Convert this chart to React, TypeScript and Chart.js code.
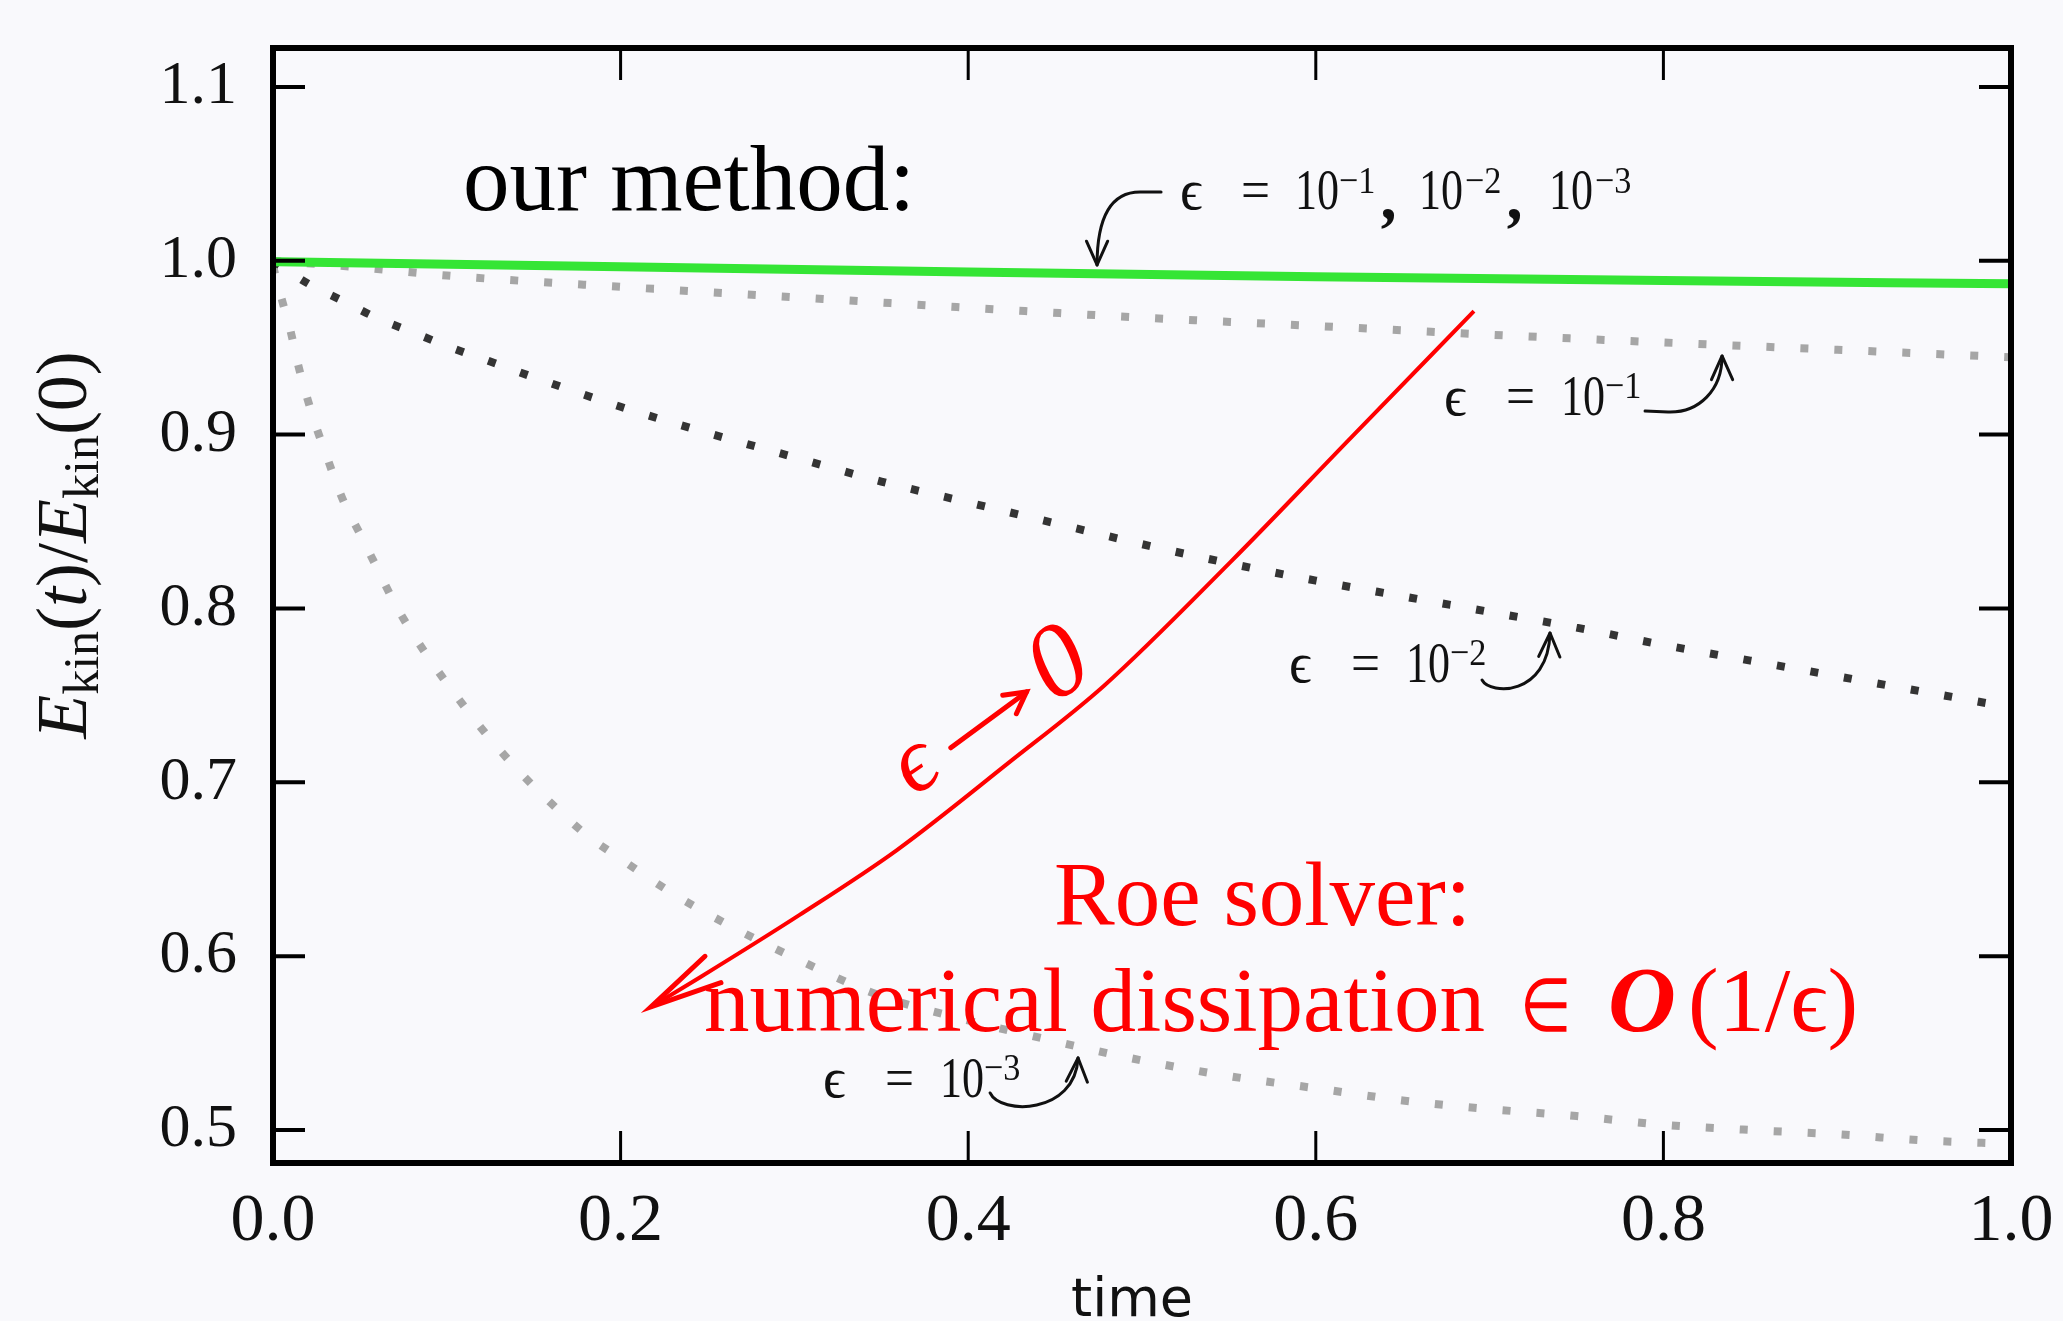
import React, { useEffect, useRef } from 'react';
import { Chart, registerables } from 'chart.js';

Chart.register(...registerables);

// ---------------- data ----------------
const xTickValues = [0, 0.2, 0.4, 0.6, 0.8, 1.0];
const yTickValues = [0.5, 0.6, 0.7, 0.8, 0.9, 1.0, 1.1];

// our method (all eps coincide)
const timeOurMethod = [0, 0.2, 0.4, 0.6, 0.8, 1.0];
const ekinOurMethod = [0.9995, 0.9965, 0.9935, 0.9908, 0.9886, 0.9868];

// Roe solver, eps = 1e-1
const timeEps1 = [0, 0.05, 0.1, 0.15, 0.2, 0.3, 0.4, 0.5, 0.6, 0.7, 0.8, 0.9, 1.0];
const ekinEps1 = [1.0, 0.9962, 0.9915, 0.988, 0.985, 0.979, 0.973, 0.9673, 0.9625, 0.9575, 0.953, 0.9488, 0.9445];

// Roe solver, eps = 1e-2
const timeEps2 = [0, 0.02, 0.04, 0.06, 0.08, 0.1, 0.125, 0.15, 0.2, 0.25, 0.3, 0.35, 0.4, 0.45, 0.5, 0.55, 0.6, 0.65, 0.7, 0.75, 0.8, 0.85, 0.9, 0.95, 1.0];
const ekinEps2 = [1.0, 0.987, 0.977, 0.967, 0.959, 0.951, 0.942, 0.933, 0.916, 0.901, 0.887, 0.873, 0.861, 0.849, 0.837, 0.826, 0.816, 0.807, 0.798, 0.789, 0.779, 0.77, 0.761, 0.752, 0.743];

// Roe solver, eps = 1e-3
const timeEps3 = [0, 0.005, 0.01, 0.015, 0.02, 0.025, 0.03, 0.04, 0.05, 0.06, 0.07, 0.08, 0.09, 0.1, 0.12, 0.14, 0.16, 0.18, 0.2, 0.23, 0.26, 0.3, 0.35, 0.4, 0.45, 0.5, 0.55, 0.6, 0.65, 0.7, 0.75, 0.8, 0.85, 0.9, 0.95, 1.0];
const ekinEps3 = [0.997, 0.978, 0.96, 0.938, 0.92, 0.904, 0.89, 0.863, 0.843, 0.823, 0.803, 0.786, 0.771, 0.757, 0.731, 0.708, 0.688, 0.67, 0.656, 0.636, 0.619, 0.599, 0.577, 0.563, 0.551, 0.54, 0.531, 0.524, 0.517, 0.512, 0.508, 0.503, 0.5, 0.4975, 0.494, 0.492];

// hand-drawn red annotation arrow "eps -> 0" (tip first)
const timeRoeArrow = [0.2175, 0.246, 0.303, 0.359, 0.423, 0.478, 0.551, 0.62, 0.691];
const ekinRoeArrow = [0.5708, 0.588, 0.6237, 0.661, 0.711, 0.7554, 0.8268, 0.898, 0.971];

const zip = (xs: number[], ys: number[]) => xs.map((x, i) => ({ x, y: ys[i] }));

const SERIF = '"Liberation Serif", "DejaVu Serif", serif';
const SANS = '"DejaVu Sans", "Liberation Sans", sans-serif';

type Piece = { s: string; dx: number; dy?: number; size: number; sx?: number; italic?: boolean; bold?: boolean; family?: string };

function drawPieces(ctx: CanvasRenderingContext2D, x: number, y: number, pieces: Piece[], color: string) {
  ctx.fillStyle = color;
  ctx.textBaseline = 'alphabetic';
  ctx.textAlign = 'left';
  for (const p of pieces) {
    ctx.save();
    ctx.font = `${p.italic ? 'italic ' : ''}${p.bold ? 'bold ' : ''}${p.size}px ${p.family || SERIF}`;
    ctx.translate(x + p.dx, y + (p.dy || 0));
    ctx.scale(p.sx ?? 1, 1);
    ctx.fillText(p.s, 0, 0);
    ctx.restore();
  }
}

function arrowHead(ctx: CanvasRenderingContext2D, tx: number, ty: number, fromX: number, fromY: number, len: number, spread: number) {
  const ang = Math.atan2(fromY - ty, fromX - tx);
  ctx.beginPath();
  ctx.moveTo(tx + len * Math.cos(ang + spread), ty + len * Math.sin(ang + spread));
  ctx.lineTo(tx, ty);
  ctx.lineTo(tx + len * Math.cos(ang - spread), ty + len * Math.sin(ang - spread));
  ctx.stroke();
}

type Arrow = { start: number[]; line?: number[]; c1: number[]; c2: number[]; end: number[] };

function curvedArrow(ctx: CanvasRenderingContext2D, ax: number, ay: number, a: Arrow) {
  ctx.save();
  ctx.strokeStyle = '#111';
  ctx.lineWidth = 3;
  ctx.lineCap = 'round';
  ctx.lineJoin = 'round';
  ctx.beginPath();
  ctx.moveTo(ax + a.start[0], ay + a.start[1]);
  if (a.line) ctx.lineTo(ax + a.line[0], ay + a.line[1]);
  ctx.bezierCurveTo(ax + a.c1[0], ay + a.c1[1], ax + a.c2[0], ay + a.c2[1], ax + a.end[0], ay + a.end[1]);
  ctx.stroke();
  arrowHead(ctx, ax + a.end[0], ay + a.end[1], ax + a.c2[0], ay + a.c2[1], 26, 0.42);
  ctx.restore();
}

const epsLabel = (exp: string): Piece[] => [
  { s: '\u03f5', dx: 0, size: 56 },
  { s: '=', dx: 62, size: 56, sx: 0.92 },
  { s: '10', dx: 117, size: 58, sx: 0.76 },
  { s: '\u2212' + exp, dx: 161, dy: -17, size: 38, sx: 0.9 },
];

const bgPlugin = {
  id: 'bg',
  beforeDraw(chart: any) {
    const { ctx, width, height } = chart;
    ctx.save();
    ctx.fillStyle = '#f9f9fc';
    ctx.fillRect(0, 0, width, height);
    ctx.restore();
  },
};

const annotationPlugin = {
  id: 'annotations',
  afterDraw(chart: any) {
    const { ctx, chartArea } = chart;
    const xs = chart.scales.x;
    const ys = chart.scales.y;
    const P = (t: number, v: number) => [xs.getPixelForValue(t), ys.getPixelForValue(v)];
    const { left, right, top, bottom } = chartArea;

    ctx.save();
    // frame
    ctx.strokeStyle = '#000';
    ctx.lineWidth = 6;
    ctx.strokeRect(left, top, right - left, bottom - top);

    // inward ticks
    ctx.lineCap = 'butt';
    ctx.lineWidth = 4;
    for (const v of yTickValues) {
      const y = ys.getPixelForValue(v);
      ctx.beginPath();
      ctx.moveTo(left, y);
      ctx.lineTo(left + 32, y);
      ctx.moveTo(right, y);
      ctx.lineTo(right - 32, y);
      ctx.stroke();
    }
    ctx.lineWidth = 3;
    for (const t of xTickValues.slice(1, -1)) {
      const x = xs.getPixelForValue(t);
      ctx.beginPath();
      ctx.moveTo(x, bottom);
      ctx.lineTo(x, bottom - 32);
      ctx.moveTo(x, top);
      ctx.lineTo(x, top + 32);
      ctx.stroke();
    }

    // red arrowhead at tip of the "eps -> 0" arrow
    {
      const [tx, ty] = P(timeRoeArrow[0], ekinRoeArrow[0]);
      const [fx, fy] = P(timeRoeArrow[1], ekinRoeArrow[1]);
      ctx.strokeStyle = '#ff0000';
      ctx.lineWidth = 5;
      ctx.lineCap = 'round';
      ctx.lineJoin = 'miter';
      arrowHead(ctx, tx, ty, fx, fy, 74, 0.21);
    }

    // "our method:"
    {
      const [x, y] = P(0.1093, 1.0293);
      drawPieces(ctx, x, y, [{ s: 'our method:', dx: 0, size: 93 }], '#000');
    }

    // top label eps = 1e-1, 1e-2, 1e-3
    {
      const [x, y] = P(0.5219, 1.0298);
      drawPieces(ctx, x, y, [
        { s: '\u03f5', dx: 0, size: 56 },
        { s: '=', dx: 61, size: 56, sx: 0.92 },
        { s: '10', dx: 115, size: 58, sx: 0.76 },
        { s: '\u22121', dx: 159, dy: -16, size: 38, sx: 0.9 },
        { s: ',', dx: 203, dy: 10, size: 66, bold: true, italic: true },
        { s: '10', dx: 239, size: 58, sx: 0.76 },
        { s: '\u22122', dx: 285, dy: -16, size: 38, sx: 0.9 },
        { s: ',', dx: 329, dy: 10, size: 66, bold: true, italic: true },
        { s: '10', dx: 369, size: 58, sx: 0.76 },
        { s: '\u22123', dx: 415, dy: -16, size: 38, sx: 0.9 },
      ], '#111');
      curvedArrow(ctx, x, y, { start: [-19, -17], line: [-40, -17], c1: [-70, -17], c2: [-83, 10], end: [-83, 56] });
    }

    // eps = 1e-1
    {
      const [x, y] = P(0.6738, 0.9113);
      drawPieces(ctx, x, y, epsLabel('1'), '#111');
      curvedArrow(ctx, x, y, { start: [201, -4], line: [224, -3], c1: [255, -2], c2: [278, -25], end: [278, -59] });
    }
    // eps = 1e-2
    {
      const [x, y] = P(0.5846, 0.7577);
      drawPieces(ctx, x, y, epsLabel('2'), '#111');
      curvedArrow(ctx, x, y, { start: [193, -2], c1: [201, 13], c2: [259, 15], end: [261, -49] });
    }
    // eps = 1e-3
    {
      const [x, y] = P(0.3165, 0.519);
      drawPieces(ctx, x, y, epsLabel('3'), '#111');
      curvedArrow(ctx, x, y, { start: [167, -4], c1: [177, 18], c2: [252, 18], end: [255, -39] });
    }

    // red texts
    {
      const [x, y] = P(0.4494, 0.6179);
      drawPieces(ctx, x, y, [{ s: 'Roe solver:', dx: 0, size: 91 }], '#ff0000');
    }
    {
      const [x, y] = P(0.248, 0.557);
      drawPieces(ctx, x, y, [
        { s: 'numerical dissipation', dx: 0, size: 91 },
        { s: '\u2208', dx: 816, dy: 0, size: 74, sx: 0.8, family: '"DejaVu Sans", sans-serif' },
        { s: 'O', dx: 904, size: 94, italic: true, bold: true },
        { s: '(1/\u03f5)', dx: 984, size: 92 },
      ], '#ff0000');
    }
    {
      const [x, y] = P(0.4097, 0.7359);
      ctx.save();
      ctx.translate(x, y);
      ctx.rotate(-34 * Math.PI / 180);
      ctx.fillStyle = '#ff0000';
      ctx.strokeStyle = '#ff0000';
      ctx.textBaseline = 'middle';
      ctx.textAlign = 'center';
      ctx.font = `italic 92px ${SERIF}`;
      ctx.fillText('\u03f5', -84, 0);
      ctx.lineWidth = 5;
      ctx.lineCap = 'round';
      ctx.beginPath();
      ctx.moveTo(-44, 4);
      ctx.lineTo(50, 0);
      ctx.stroke();
      arrowHead(ctx, 50, 0, -44, 4, 24, 0.5);
      ctx.font = `italic 104px ${SERIF}`;
      ctx.fillText('0', 92, -2);
      ctx.restore();
    }

    // x axis title
    ctx.fillStyle = '#111';
    ctx.font = `54px ${SANS}`;
    ctx.textAlign = 'center';
    ctx.textBaseline = 'alphabetic';
    ctx.fillText('time', (left + right) / 2 - 10, 1316);

    // y axis title (rotated)
    {
      const parts: { s: string; size: number; italic?: boolean; dy?: number }[] = [
        { s: 'E', size: 72, italic: true },
        { s: 'kin', size: 50, dy: 12 },
        { s: '(', size: 72 },
        { s: 't', size: 72, italic: true },
        { s: ')/', size: 72 },
        { s: 'E', size: 72, italic: true },
        { s: 'kin', size: 50, dy: 12 },
        { s: '(0)', size: 72 },
      ];
      const widths = parts.map((p) => {
        ctx.font = `${p.italic ? 'italic ' : ''}${p.size}px ${SERIF}`;
        return ctx.measureText(p.s).width;
      });
      const total = widths.reduce((a, b) => a + b, 0);
      ctx.save();
      ctx.translate(86, 545);
      ctx.rotate(-Math.PI / 2);
      ctx.textAlign = 'left';
      ctx.textBaseline = 'alphabetic';
      let cx = -total / 2;
      parts.forEach((p, i) => {
        ctx.font = `${p.italic ? 'italic ' : ''}${p.size}px ${SERIF}`;
        ctx.fillText(p.s, cx, p.dy || 0);
        cx += widths[i];
      });
      ctx.restore();
    }
    ctx.restore();
  },
};

export default function App() {
  const ref = useRef<HTMLCanvasElement | null>(null);

  useEffect(() => {
    document.body.style.margin = '0';
    document.body.style.background = '#f9f9fc';
    const canvas = ref.current;
    if (!canvas) return;
    const dotted = { borderWidth: 8, borderDash: [8, 26], borderCapStyle: 'butt' as const, pointRadius: 0, fill: false };
    const chart = new Chart(canvas, {
      type: 'line',
      data: {
        datasets: [
          { label: 'Roe eps->0 arrow', data: zip(timeRoeArrow, ekinRoeArrow), borderColor: '#ff0000', borderWidth: 4, pointRadius: 0, order: 0 },
          { label: 'our method', data: zip(timeOurMethod, ekinOurMethod), borderColor: '#35e535', borderWidth: 9, pointRadius: 0, order: 1 },
          { label: 'Roe eps=1e-2', data: zip(timeEps2, ekinEps2), borderColor: '#343434', ...dotted, order: 2 },
          { label: 'Roe eps=1e-1', data: zip(timeEps1, ekinEps1), borderColor: '#a6a6a6', ...dotted, order: 3 },
          { label: 'Roe eps=1e-3', data: zip(timeEps3, ekinEps3), borderColor: '#a6a6a6', ...dotted, order: 4 },
        ],
      },
      options: {
        responsive: false,
        animation: false,
        layout: { padding: { top: 48, right: 52, left: 0, bottom: 0 } },
        elements: { point: { radius: 0 }, line: { cubicInterpolationMode: 'monotone' } },
        plugins: { legend: { display: false }, tooltip: { enabled: false } },
        scales: {
          x: {
            type: 'linear',
            min: 0,
            max: 1,
            afterBuildTicks: (s: any) => { s.ticks = xTickValues.map((value) => ({ value })); },
            afterFit: (s: any) => {
              s.height = 158;
              s.paddingLeft = 0; s.paddingRight = 0; s.paddingTop = 0; s.paddingBottom = 0;
            },
            grid: { display: false, drawTicks: false },
            border: { display: false },
            ticks: {
              padding: 18,
              color: '#111',
              font: { family: 'Liberation Serif', size: 68 },
              maxRotation: 0,
              autoSkip: false,
              callback: (v: any) => Number(v).toFixed(1),
            },
          },
          y: {
            type: 'linear',
            min: 0.481,
            max: 1.1224,
            afterBuildTicks: (s: any) => { s.ticks = yTickValues.map((value) => ({ value })); },
            afterFit: (s: any) => {
              s.width = 273;
              s.paddingLeft = 0; s.paddingRight = 0; s.paddingTop = 0; s.paddingBottom = 0;
            },
            grid: { display: false, drawTicks: false },
            border: { display: false },
            ticks: {
              padding: 36,
              color: '#111',
              font: { family: 'Liberation Serif', size: 62 },
              autoSkip: false,
              callback: (v: any) => Number(v).toFixed(1),
            },
          },
        },
      },
      plugins: [bgPlugin, annotationPlugin],
    });
    return () => chart.destroy();
  }, []);

  return (
    <div style={{ position: 'absolute', left: 0, top: 0, width: 2063, height: 1321 }}>
      <canvas ref={ref} width={2063} height={1321} style={{ display: 'block', width: 2063, height: 1321 }} />
    </div>
  );
}
